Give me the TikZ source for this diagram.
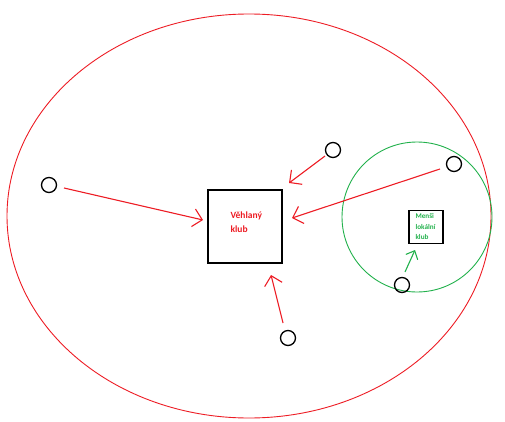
\documentclass[tikz,border=0pt]{standalone}
\usepackage{fontspec}
\setmainfont{Carlito}
\usetikzlibrary{arrows.meta}
\definecolor{clubred}{RGB}{237,28,36}
\definecolor{clubgreen}{RGB}{34,177,76}
\tikzset{
  fan/.style={draw=black, line width=1.3pt, circle, minimum size=15pt, inner sep=0pt},
  clubbox/.style={draw=black, line width=1.5pt, inner sep=0pt},
  pull/.style={draw=clubred, line width=1.1pt, -{Straight Barb[length=9pt,width=18pt,line width=1.1pt]}},
  localpull/.style={draw=clubgreen, line width=1.1pt, -{Straight Barb[length=7pt,width=13pt,line width=1.1pt]}},
}
\begin{document}
\begin{tikzpicture}[x=1pt,y=-1pt]
  \useasboundingbox (0,0) rectangle (505,422);
  % catchment areas
  \draw[clubred, line width=0.9pt] (249,216) ellipse [x radius=242, y radius=202];
  \draw[clubgreen, line width=0.9pt] (417,217) circle [radius=75];
  % clubs
  \node[clubbox, minimum width=74pt, minimum height=73pt] (big) at (245,226.5) {};
  \node[font=\bfseries\fontsize{9.5}{14}\selectfont, text=clubred, align=left, anchor=north west] (bigtxt) at (227,208) {Věhlaný\\klub};
  \node[clubbox, minimum width=34pt, minimum height=33pt] (small) at (426,227) {};
  \node[font=\bfseries\fontsize{7.2}{10.6}\selectfont, text=clubgreen, align=left] (smalltxt) at (425.5,226.5) {Menši\\lokální\\klub};
  % supporters
  \node[fan] (f1) at (49,185) {};
  \node[fan] (f2) at (333,150) {};
  \node[fan] (f3) at (454,164) {};
  \node[fan] (f4) at (288,338) {};
  \node[fan] (f5) at (402,285) {};
  \coordinate (t1) at (203,220);
  \coordinate (t2) at (289,183);
  \coordinate (t3) at (292,218);
  \coordinate (t4) at (271,275);
  \coordinate (t5) at (415,250);
  \draw[pull] (f1) ++(15,3) -- (t1);
  \draw[pull] (f2) ++(-8,6) -- (t2);
  \draw[pull] (f3) ++(-14,5) -- (t3);
  \draw[pull] (f4) ++(-5,-15) -- (t4);
  \draw[localpull] (f5) ++(3,-13) -- (t5);
\end{tikzpicture}
\end{document}
